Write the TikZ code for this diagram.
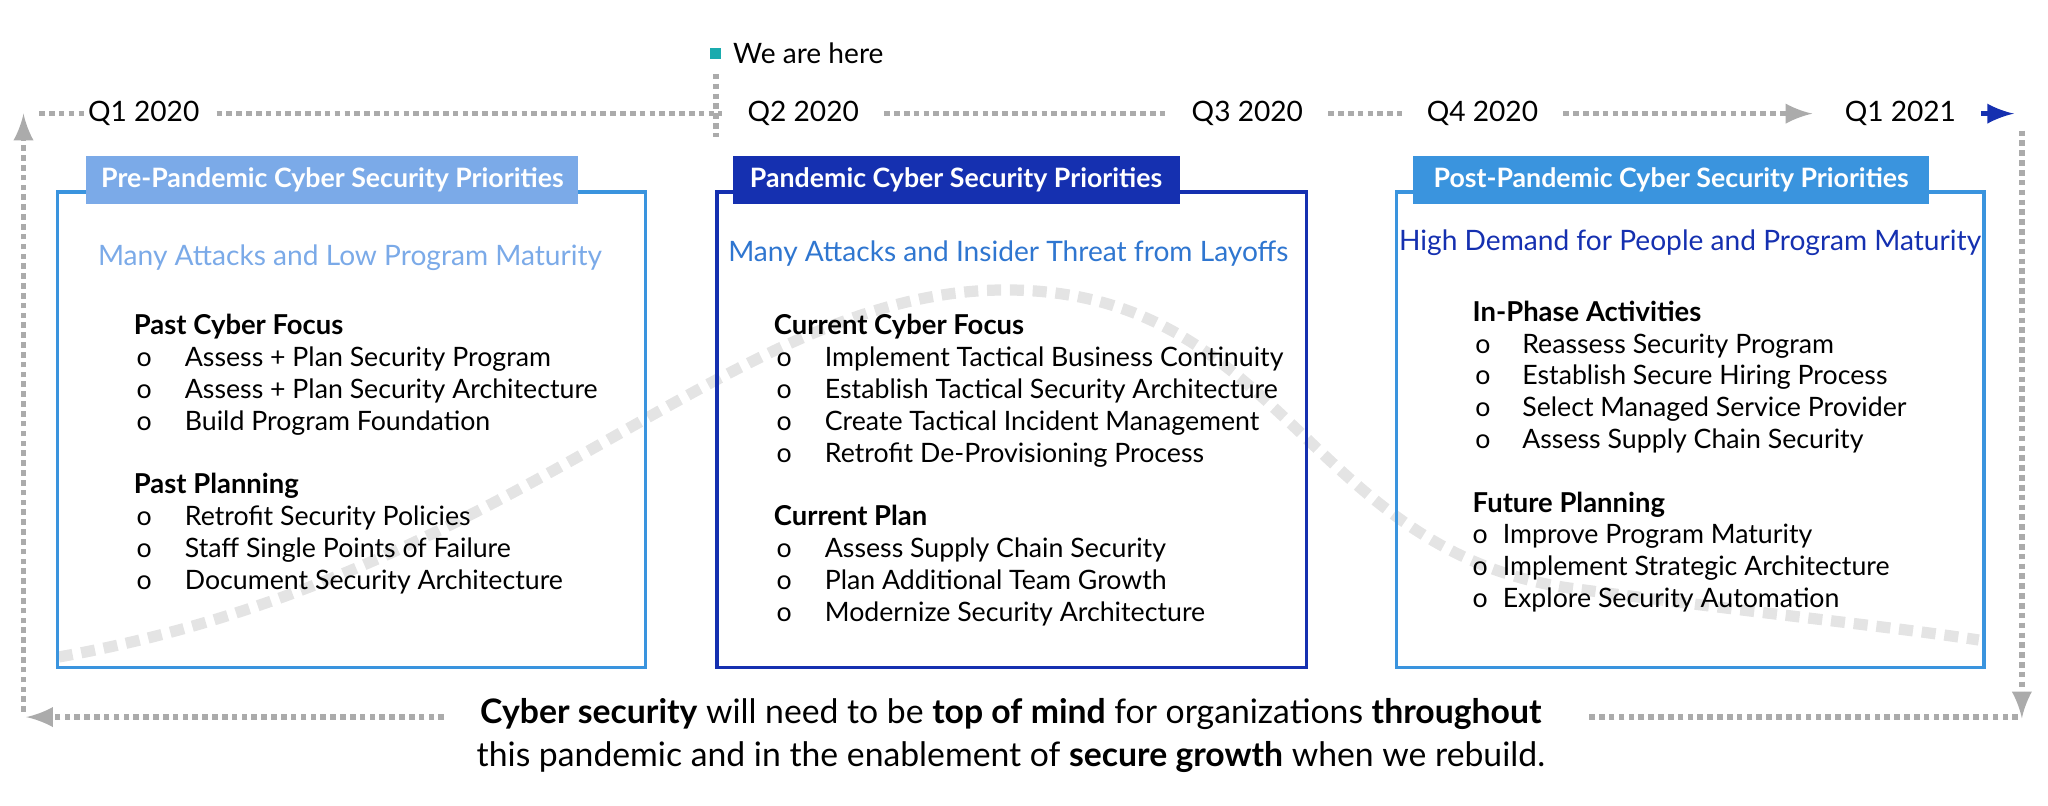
\documentclass[tikz,border=0pt]{standalone}
\usepackage{fontspec}
\setmainfont{Lato}
\usetikzlibrary{positioning}
\definecolor{lightblue}{HTML}{7BAAE8}
\definecolor{midblue}{HTML}{3A94DE}
\definecolor{darkblue}{HTML}{1530B0}
\definecolor{teal}{HTML}{1AABAE}
\definecolor{dotgrey}{HTML}{ABABAB}
\definecolor{curvegrey}{HTML}{E4E4E4}
\tikzset{
  dotline/.style={dotgrey, line width=1.6pt, dash pattern=on 1.6pt off 1.2pt},
  quarter/.style={font=\fontsize{8}{9}\selectfont, inner sep=1pt},
  tab/.style={fill=#1, text=white, font=\bfseries\fontsize{7.6}{9}\selectfont, minimum height=0.44cm, inner xsep=4pt},
  box/.style={draw=#1, line width=0.9pt},
  item/.style={anchor=base west, font=\fontsize{7.6}{9}\selectfont, inner sep=0pt},
  head/.style={anchor=base west, font=\bfseries\fontsize{7.8}{9}\selectfont, inner sep=0pt}
}
\begin{document}
\begin{tikzpicture}[x=0.01306cm, y=-0.01306cm]
  \useasboundingbox (0,0) rectangle (1568,617);

  % bell curve behind everything
  \draw[curvegrey, line width=3.2pt, dash pattern=on 4pt off 2.5pt]
    (45,503) .. controls (400,440) and (560,222) .. (770,222)
             .. controls (980,222) and (1000,420) .. (1200,450)
             .. controls (1350,470) and (1450,480) .. (1515,490);

  % timeline
  \node[quarter] (q1) at (110,87) {Q1 2020};
  \node[quarter] (q2) at (615,87) {Q2 2020};
  \node[quarter] (q3) at (955,87) {Q3 2020};
  \node[quarter] (q4) at (1135,87) {Q4 2020};
  \node[quarter] (q5) at (1455,87) {Q1 2021};
  \coordinate (tl) at (30,87);
  \coordinate (tlb) at (18,545);
  \coordinate (tr) at (1548,100);
  \coordinate (trb) at (1548,550);
  \coordinate (bl) at (20,549);
  \coordinate (blue) at (1542,87);
  \draw[dotline] (tl) -- (q1.west);
  \draw[dotline] (q1.east) ++(10,0) -- ([xshift=-6]q2.west);
  \draw[dotline] ([xshift=6]q2.east) -- ([xshift=-6]q3.west);
  \draw[dotline] ([xshift=6]q3.east) -- ([xshift=-6]q4.west);
  \draw[dotline, -latex] ([xshift=6]q4.east) -- ([xshift=-8]q5.west);
  \draw[darkblue, line width=1.6pt, -latex] ([xshift=6]q5.east) -- (blue);
  \draw[dotline, -latex] (tlb) -- (18,87);
  \draw[dotline, -latex] (tr) -- (trb);

  % we are here
  \node[fill=teal, minimum size=0.11cm, inner sep=0pt] (here) at (548,41) {};
  \node[anchor=west, font=\fontsize{8}{9}\selectfont, inner sep=0pt] (heretxt) at (here.east) [xshift=3pt] {We are here};
  \draw[dotline] ([yshift=-4]here.south) -- ([yshift=-22]here.south);

  % boxes
  \draw[box=midblue] (44,147) rectangle (494,511);
  \draw[box=darkblue] (549,147) rectangle (1000,511);
  \draw[box=midblue] (1069,147) rectangle (1519,511);
  \node[tab=lightblue, minimum width=4.92cm] (t1) at (254.5,138) {Pre-Pandemic Cyber Security Priorities};
  \node[tab=darkblue, minimum width=4.47cm] (t2) at (732,138) {Pandemic Cyber Security Priorities};
  \node[tab=midblue, minimum width=5.16cm] (t3) at (1279.5,138) {Post-Pandemic Cyber Security Priorities};

  \node[font=\fontsize{8}{9}\selectfont, text=lightblue] (s1) at (268,197) {Many Attacks and Low Program Maturity};
  \node[font=\fontsize{8}{9}\selectfont, text=midblue!70!darkblue] (s2) at (772,194) {Many Attacks and Insider Threat from Layoffs};
  \node[font=\fontsize{8}{9}\selectfont, text=darkblue] (s3) at (1294,186) {High Demand for People and Program Maturity};

  % box 1
  \node[head] (h1) at (102,256) {Past Cyber Focus};
  \foreach \t [count=\i] in {Assess + Plan Security Program, Assess + Plan Security Architecture, Build Program Foundation} {
    \node[item] at (104,{256+24.5*\i}) {o};
    \node[item] at (141,{256+24.5*\i}) {\t};
  }
  \node[head] (h2) at (102,378) {Past Planning};
  \foreach \t [count=\i] in {Retrofit Security Policies, Staff Single Points of Failure, Document Security Architecture} {
    \node[item] at (104,{378+24.5*\i}) {o};
    \node[item] at (141,{378+24.5*\i}) {\t};
  }

  % box 2
  \node[head] (h3) at (592,256) {Current Cyber Focus};
  \foreach \t [count=\i] in {Implement Tactical Business Continuity, Establish Tactical Security Architecture, Create Tactical Incident Management, Retrofit De-Provisioning Process} {
    \node[item] at (594,{256+24.5*\i}) {o};
    \node[item] at (631,{256+24.5*\i}) {\t};
  }
  \node[head] (h4) at (592,402) {Current Plan};
  \foreach \t [count=\i] in {Assess Supply Chain Security, Plan Additional Team Growth, Modernize Security Architecture} {
    \node[item] at (594,{402+24.5*\i}) {o};
    \node[item] at (631,{402+24.5*\i}) {\t};
  }

  % box 3
  \node[head] (h5) at (1127,246) {In-Phase Activities};
  \foreach \t [count=\i] in {Reassess Security Program, Establish Secure Hiring Process, Select Managed Service Provider, Assess Supply Chain Security} {
    \node[item] at (1129,{246+24.3*\i}) {o};
    \node[item] at (1165,{246+24.3*\i}) {\t};
  }
  \node[head] (h6) at (1127,392) {Future Planning};
  \foreach \t [count=\i] in {Improve Program Maturity, Implement Strategic Architecture, Explore Security Automation} {
    \node[item] at (1127,{392+24.3*\i}) {o};
    \node[item] at (1150,{392+24.3*\i}) {\t};
  }

  % bottom message
  \node[font=\fontsize{9.6}{12.4}\selectfont, align=center] (msg) at (774,563)
    {\textbf{Cyber security} will need to be \textbf{top of mind} for organizations \textbf{throughout}\\
     this pandemic and in the enablement of \textbf{secure growth} when we rebuild.};
  \draw[dotline] (trb) ++(-3,-1) -- (1215,549);
  \draw[dotline, -latex] (340,549) -- (bl);
\end{tikzpicture}
\end{document}
